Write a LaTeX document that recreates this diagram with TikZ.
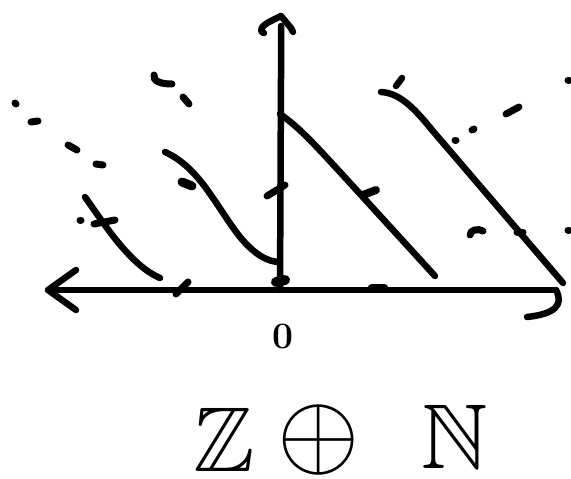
\documentclass[tikz,border=0pt]{standalone}
\usepackage{amssymb}
\usepackage{tikz}
\tikzset{
  pen/.style={line width=6.5pt, line cap=round, line join=round, draw=black},
  % traço curto (marcas e pontos soltos)
  mk/.style={line width=7pt, line cap=round, draw=black},
  big/.style={font=\Huge, scale=3.7, inner sep=0pt}
}
\begin{document}
\begin{tikzpicture}[x=1pt, y=-1pt]
  \useasboundingbox (0,0) rectangle (571,479);

  % --- eixos ---
  \coordinate (o) at (280,290);
  \coordinate (xl) at (48,290);
  \coordinate (xr) at (556,290);
  \coordinate (yt) at (281,16);
  \draw[pen] (xr) -- (o) -- (xl);
  \draw[pen] (76,270) -- (xl) -- (76,310);
  \draw[pen] (xr) .. controls (564,305) and (555,314) .. (527,317);
  \draw[pen] (o) -- (281,78) -- (281,26);
  \draw[pen] (264,33) .. controls (258,31) and (262,26) .. (269,22) -- (yt) -- (291,28) -- (293,32);
  \node[font=\Huge\bfseries, scale=1.5, inner sep=0pt] (zero) at (283,336) {0};

  % --- curvas ---
  \draw[pen] (o |- 0,114) .. controls (300,128) and (315,145) .. (340,172) -- (435,276);
  \draw[pen] (381,92) .. controls (398,93) and (412,105) .. (432,130) -- (563,283);
  \draw[pen] (396,86) -- (402,78);
  \draw[pen] (165,152) .. controls (200,168) and (215,205) .. (240,237)
                       .. controls (255,255) and (268,262) .. (280,262);
  \draw[pen] (85,197) .. controls (105,225) and (130,265) .. (160,278);

  % --- marcas tracejadas ---
  \draw[mk] (15,103) -- (16,104);
  \draw[mk] (31,122) -- (38,121);
  \draw[mk] (68,145) -- (77,150);
  \draw[mk] (96,164) -- (103,165);
  \draw[mk] (154,75) .. controls (153,81) and (160,84) .. (172,84);
  \draw[mk] (183,97) -- (189,104);
  \draw[mk] (455,140) -- (456,140);
  \draw[mk] (472,130) -- (474,129);
  \draw[mk] (506,114) -- (519,107);
  \draw[mk] (568,80) -- (569,80);
  \draw[mk] (470,235) .. controls (470,230) and (478,228) .. (483,231);
  \draw[mk] (517,232) -- (523,232);
  \draw[mk] (568,230) -- (569,230);

  % --- setas de direcao nas curvas ---
  \draw[mk] (80,220) -- (81,220);
  \draw[mk] (94,224) -- (115,220);
  \draw[mk, line width=9pt] (182,182) -- (192,186);
  \draw[mk] (267,196) -- (285,185);
  \draw[mk, line width=10pt] (276,282) -- (285,280);
  \draw[mk] (176,294) -- (188,282);
  \draw[mk, line width=9pt] (372,288) -- (384,288);
  \draw[mk, line width=8pt] (363,195) -- (376,190);

  % --- rotulo ---
  \node[big] (zz) at (224,440) {$\mathbb{Z}$};
  \node[big, scale=1.15] (op) at (319,440) {$\oplus$};
  \node[big] (nn) at (455,437) {$\mathbb{N}$};
\end{tikzpicture}
\end{document}
